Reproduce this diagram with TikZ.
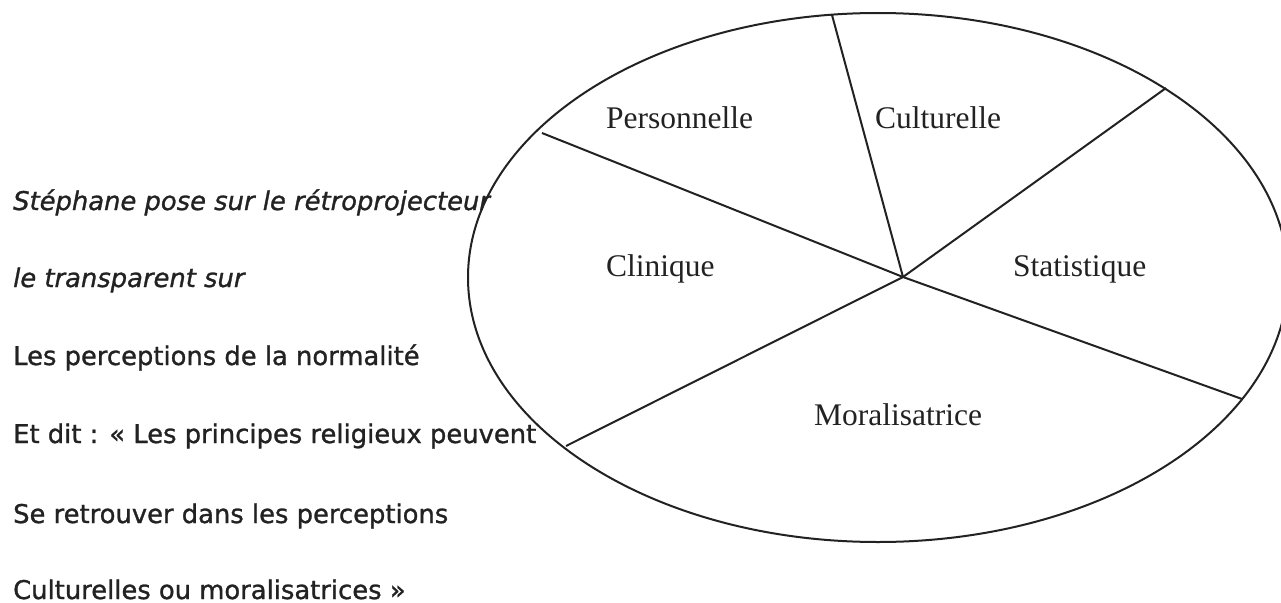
\documentclass[tikz,border=0pt]{standalone}
\usepackage{fontspec}
\setmainfont{Liberation Serif}
\newfontfamily\leftfont[FakeBold=1.1]{DejaVu Sans}
\definecolor{ink}{RGB}{34,34,34}
\begin{document}
\begin{tikzpicture}[x=1pt,y=-1pt,
  line/.style={draw=ink,line width=2pt},
  seglabel/.style={anchor=base west,inner sep=0pt,text=ink,font=\fontsize{31.5}{36}\selectfont},
  saytext/.style={anchor=base west,inner sep=0pt,text=ink,font=\leftfont\fontsize{25.8}{30}\selectfont}]
\useasboundingbox (0,0) rectangle (1281,602);
% ellipse
\draw[line] (878,277.5) ellipse [x radius=410, y radius=264.5];
% hub and rim points
\coordinate (hub) at (903,277);
\coordinate (rPC) at (542,133);
\coordinate (rPCu) at (832,15);
\coordinate (rCuS) at (1166,88);
\coordinate (rSM) at (1242,399);
\coordinate (rMC) at (566,446);
\draw[line] (hub) -- (rPC);
\draw[line] (hub) -- (rPCu);
\draw[line] (hub) -- (rCuS);
\draw[line] (hub) -- (rSM);
\draw[line] (hub) -- (rMC);
% segment labels
\node[seglabel] (pers) at (606,128) {Personnelle};
\node[seglabel] (cult) at (875,128) {Culturelle};
\node[seglabel] (clin) at (606,276) {Clinique};
\node[seglabel] (stat) at (1013,276) {Statistique};
\node[seglabel] (mora) at (814,425) {Moralisatrice};
% left text
\node[saytext] (t1) at (13,210) {\itshape Stéphane pose sur le rétroprojecteur};
\node[saytext] (t2) at (13,287) {\itshape le transparent sur};
\node[saytext] (t3) at (13,365) {Les perceptions de la normalité};
\node[saytext] (t4) at (13,443) {Et dit : « Les principes religieux peuvent};
\node[saytext] (t5) at (13,523) {Se retrouver dans les perceptions};
\node[saytext] (t6) at (13,599) {Culturelles ou moralisatrices »};
\end{tikzpicture}
\end{document}
